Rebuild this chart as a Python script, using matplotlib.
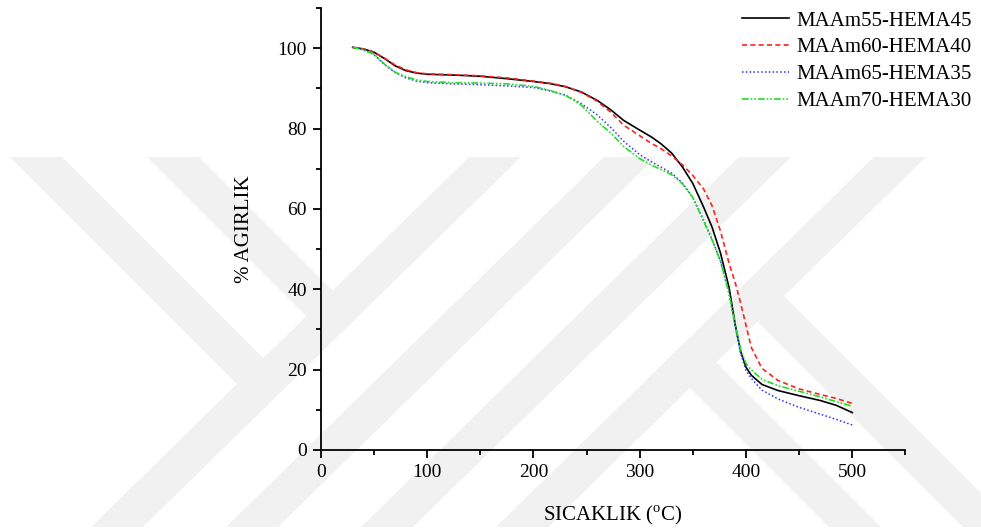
import numpy as np
import matplotlib
matplotlib.use("Agg")
import matplotlib.pyplot as plt
from matplotlib.patches import Polygon
from matplotlib.ticker import MultipleLocator

plt.rcParams["font.family"] = ["Liberation Serif", "DejaVu Serif"]
plt.rcParams["mathtext.fontset"] = "custom"
plt.rcParams["mathtext.rm"] = "Liberation Serif"

# ---------------------------------------------------------------------------
# TGA data: temperature (C) vs. % weight
# ---------------------------------------------------------------------------
temp = [30, 40, 50, 60, 70, 80, 90, 100, 125, 150, 175, 200, 215, 230, 245,
        260, 273, 285, 300, 311, 320, 330, 340, 350, 360, 368, 376, 384, 390,
        395, 400, 405, 415, 430, 450, 470, 485, 500]

maam55 = [100.2, 99.8, 99.0, 97.4, 95.6, 94.4, 93.8, 93.5, 93.3, 93.0, 92.4,
          91.7, 91.2, 90.4, 89.1, 87.0, 84.6, 82.0, 79.6, 77.9, 76.2, 73.9,
          70.5, 66.3, 60.5, 55.5, 49.0, 40.5, 31.0, 24.5, 20.6, 18.6, 16.3,
          14.8, 13.5, 12.3, 11.1, 9.3]

maam60 = [100.2, 99.8, 99.0, 97.5, 95.8, 94.6, 93.9, 93.6, 93.4, 93.1, 92.6,
          91.8, 91.3, 90.5, 89.0, 86.8, 84.0, 80.8, 78.2, 76.3, 75.0, 73.2,
          71.0, 68.3, 65.0, 60.8, 54.5, 46.5, 41.5, 36.5, 31.0, 25.5, 20.3,
          17.3, 15.2, 13.8, 12.8, 11.6]

maam65 = [100.2, 99.6, 98.4, 95.9, 93.9, 92.6, 91.8, 91.4, 91.1, 90.9, 90.6,
          90.2, 89.4, 88.3, 86.2, 83.4, 80.2, 76.8, 73.5, 71.7, 70.4, 68.9,
          66.5, 62.8, 57.3, 52.5, 47.0, 39.0, 30.5, 24.0, 19.8, 17.8, 14.9,
          12.7, 10.6, 8.9, 7.6, 6.2]

maam70 = [100.2, 99.6, 98.5, 96.0, 94.0, 92.9, 92.1, 91.7, 91.4, 91.3, 91.1,
          90.5, 89.5, 88.3, 85.8, 81.8, 78.8, 75.5, 72.5, 70.9, 69.8, 68.5,
          66.3, 62.8, 57.0, 52.3, 47.0, 39.0, 31.0, 25.0, 21.5, 19.9, 17.6,
          16.0, 14.6, 13.2, 12.0, 10.9]

labels = ["MAAm55-HEMA45", "MAAm60-HEMA40", "MAAm65-HEMA35", "MAAm70-HEMA30"]


def add_watermark(fig):
    """Faint diagonal-band watermark behind the plot (pixel coords, y down)."""
    wm = fig.add_axes([0, 0, 1, 1], zorder=0)
    wm.set_xlim(0, 981)
    wm.set_ylim(530, 0)
    wm.axis("off")
    half = 26
    grey = "#f1f1f1"
    bands = []
    # "/" bands: bottom x at y=527 -> top x at y=157
    for xb in (117, 252, 387, 522):
        bands.append((xb, 527, xb + 378, 157))
    # "\" bands hanging from the top-left, ending on the first "/" band
    bands += [(36, 157, 263, 384), (173, 157, 332, 316)]
    # "\" bands leaving the last "/" band towards the bottom-right
    bands += [(690, 362, 855, 527), (758, 296, 989, 527)]
    for (x0, y0, x1, y1) in bands:
        wm.add_patch(Polygon([(x0 - half, y0), (x0 + half, y0),
                              (x1 + half, y1), (x1 - half, y1)],
                             closed=True, fc=grey, ec="none"))


fig = plt.figure(figsize=(9.81, 5.30), dpi=100)
add_watermark(fig)

ax = fig.add_axes([0.327, 0.151, 0.596, 0.834], zorder=1)
ax.set_facecolor("none")

ax.plot(temp, maam55, color="black", lw=1.2, ls="-", label=labels[0])
ax.plot(temp, maam60, color="#ff2020", lw=1.2, ls=(0, (3, 2)), label=labels[1])
ax.plot(temp, maam65, color="#3030ff", lw=1.1, ls=(0, (1, 1.5)), label=labels[2])
ax.plot(temp, maam70, color="#20e020", lw=1.2,
        ls=(0, (4, 1.2, 1, 1.2, 1, 1.2)), label=labels[3])

ax.set_xlim(0, 550)
ax.set_ylim(0, 110)
ax.xaxis.set_minor_locator(MultipleLocator(50))
ax.yaxis.set_minor_locator(MultipleLocator(10))
ax.set_xticks([0, 100, 200, 300, 400, 500])
ax.set_yticks([0, 20, 40, 60, 80, 100])

for side in ("top", "right"):
    ax.spines[side].set_visible(False)
for side in ("left", "bottom"):
    ax.spines[side].set_linewidth(1.3)
ax.tick_params(which="major", direction="out", length=6, width=1.3,
               labelsize=14, pad=4)
ax.tick_params(which="minor", direction="out", length=3.5, width=1.3)

ax.set_xlabel("SICAKLIK ($^{\\rm o}$C)", fontsize=15, labelpad=16)
ax.set_ylabel("% AGIRLIK", fontsize=15, labelpad=17)

leg = ax.legend(loc="upper left", bbox_to_anchor=(742 / 981, 1 - 11 / 530),
                bbox_transform=fig.transFigure, frameon=False,
                fontsize=15, handlelength=2.26, handletextpad=0.34,
                labelspacing=0.35, borderpad=0.0, borderaxespad=0.0)

fig.savefig("out.png", dpi=100)
